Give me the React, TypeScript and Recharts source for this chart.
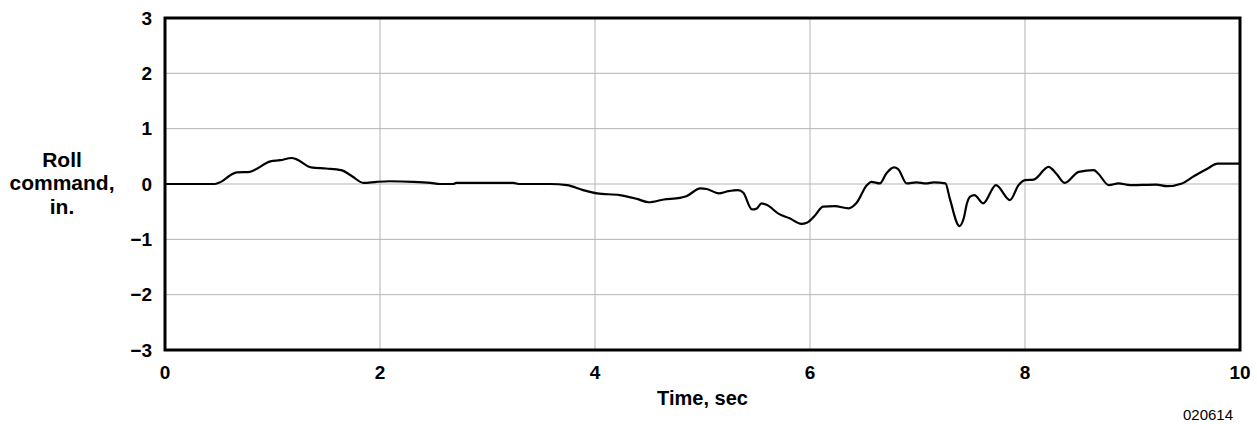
import { LineChart, Line, XAxis, YAxis, CartesianGrid, ReferenceArea, Label } from "recharts"

const timeSec = [
  0, 0.46, 0.54, 0.6, 0.67, 0.79, 0.85, 0.98, 1.07, 1.18, 1.22, 1.36, 1.5, 1.64, 1.74, 1.845,
  1.97, 2.09, 2.31, 2.47, 2.56, 2.68, 2.71, 3.24, 3.3, 3.58, 3.74, 3.89, 4.02, 4.23, 4.39, 4.5,
  4.64, 4.79, 4.85, 4.98, 5.04, 5.15, 5.24, 5.33, 5.38, 5.46, 5.5, 5.55, 5.6, 5.71, 5.81, 5.92,
  5.97, 6.05, 6.12, 6.23, 6.36, 6.43, 6.53, 6.57, 6.65, 6.71, 6.78, 6.82, 6.9, 6.99, 7.08, 7.15,
  7.26, 7.3, 7.39, 7.43, 7.46, 7.49, 7.53, 7.61, 7.73, 7.86, 7.94, 8.0, 8.08, 8.22, 8.29, 8.37,
  8.5, 8.64, 8.68, 8.78, 8.87, 8.98, 9.22, 9.32, 9.46, 9.57, 9.7, 9.79, 10,
]

const rollCmd = [
  0, 0, 0.06, 0.15, 0.21, 0.22, 0.27, 0.41, 0.43, 0.47, 0.45, 0.3, 0.28, 0.25, 0.14, 0.02,
  0.04, 0.05, 0.04, 0.02, 0, 0, 0.02, 0.02, 0, 0, -0.02, -0.11, -0.17, -0.2, -0.27, -0.33,
  -0.28, -0.25, -0.22, -0.08, -0.09, -0.17, -0.13, -0.11, -0.16, -0.46, -0.45, -0.35, -0.38, -0.54, -0.62, -0.72,
  -0.7, -0.56, -0.41, -0.4, -0.44, -0.35, -0.02, 0.04, 0.01, 0.19, 0.3, 0.27, 0.01, 0.03, 0.01, 0.03,
  0.01, -0.26, -0.76, -0.62, -0.35, -0.23, -0.2, -0.35, -0.02, -0.29, -0.02, 0.07, 0.08, 0.31, 0.19, 0.02,
  0.22, 0.25, 0.19, -0.02, 0.01, -0.02, -0.01, -0.04, 0.01, 0.14, 0.28, 0.37, 0.37,
]

const xTicks = [0, 2, 4, 6, 8, 10]
const yTicks = [-3, -2, -1, 0, 1, 2, 3]

const data = timeSec.map((t, i) => ({ t, roll: rollCmd[i] }))

const font = "'Liberation Sans', Arial, Helvetica, sans-serif"
const minus = (v: number) => String(v).replace("-", "\u2212")

// three-line y title, sits left of the tick labels
function YTitle({ viewBox }: any) {
  const cx = 62
  const cy = viewBox.y + viewBox.height / 2
  return (
    <text textAnchor="middle" fontFamily={font} fontWeight="bold" fontSize={21} fill="#000">
      <tspan x={cx} y={cy - 17}>Roll</tspan>
      <tspan x={cx} y={cy + 6}>command,</tspan>
      <tspan x={cx} y={cy + 30}>in.</tspan>
    </text>
  )
}

export default function App() {
  return (
    <div style={{ position: "absolute", left: 0, top: 0, width: 1257, height: 424, background: "#fff" }}>
      <LineChart width={1257} height={424} data={data} margin={{ top: 18, right: 17, left: 0, bottom: 0 }}>
        <CartesianGrid stroke="#b3b3b3" strokeWidth={1} vertical horizontal />
        <XAxis
          dataKey="t"
          type="number"
          domain={[0, 10]}
          ticks={xTicks}
          height={74}
          tickLine={false}
          axisLine={false}
          tickMargin={10}
          tick={{ fill: "#000", fontFamily: font, fontWeight: "bold", fontSize: 19 }}
        >
          <Label value="Time, sec" position="insideTop" offset={41} fill="#000" fontFamily={font} fontWeight="bold" fontSize={20} />
        </XAxis>
        <YAxis
          type="number"
          domain={[-3, 3]}
          ticks={yTicks}
          width={165}
          tickLine={false}
          axisLine={false}
          tickMargin={7}
          tickFormatter={minus}
          tick={{ fill: "#000", fontFamily: font, fontWeight: "bold", fontSize: 19 }}
        >
          <Label content={<YTitle />} />
        </YAxis>
        <ReferenceArea x1={0} x2={10} y1={-3} y2={3} fill="none" stroke="#000" strokeWidth={3} ifOverflow="visible" />
        <Line
          type="monotone"
          dataKey="roll"
          stroke="#000"
          strokeWidth={2.2}
          dot={false}
          isAnimationActive={false}
        />
      </LineChart>
      <div
        style={{
          position: "absolute",
          left: 1183,
          top: 407,
          fontFamily: font,
          fontSize: 15,
          lineHeight: "15px",
          color: "#000",
        }}
      >
        020614
      </div>
    </div>
  )
}
